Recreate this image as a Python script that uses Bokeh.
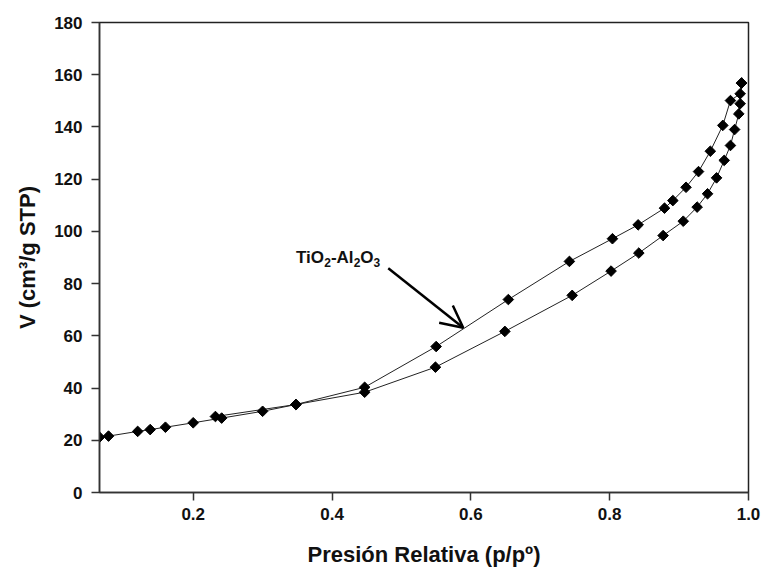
import math
from bokeh.plotting import figure
from bokeh.models import Range1d, FixedTicker, Arrow, OpenHead, Label
from bokeh.embed import file_html
from bokeh.resources import INLINE

# Adsorption branch (relative pressure, volume adsorbed)
ads_p = [0.065, 0.078, 0.12, 0.138, 0.16, 0.2, 0.241, 0.3, 0.348, 0.447,
         0.549, 0.649, 0.746, 0.802, 0.842, 0.877, 0.906, 0.926, 0.941,
         0.954, 0.965, 0.974, 0.98, 0.986, 0.988, 0.99]
ads_v = [21.2, 21.6, 23.4, 24.1, 25.0, 26.7, 28.5, 31.1, 33.7, 38.4,
         48.0, 61.7, 75.5, 84.8, 91.7, 98.4, 103.9, 109.3, 114.4,
         120.5, 127.2, 132.9, 139.0, 145.0, 148.9, 156.8]

# Desorption branch
des_p = [0.99, 0.988, 0.974, 0.963, 0.945, 0.928, 0.91, 0.891, 0.879,
         0.841, 0.804, 0.742, 0.654, 0.55, 0.447, 0.348, 0.232]
des_v = [156.8, 152.7, 150.1, 140.6, 130.7, 122.9, 116.9, 111.8, 108.9,
         102.5, 97.2, 88.5, 73.9, 55.9, 40.3, 33.7, 29.1]

x_ticks = [0.2, 0.4, 0.6, 0.8, 1.0]
y_ticks = [0, 20, 40, 60, 80, 100, 120, 140, 160, 180]

FONT = "Liberation Sans"

p = figure(width=762, height=571, output_backend="svg", toolbar_location=None,
           x_range=Range1d(0.065, 1.0), y_range=Range1d(0, 180),
           min_border_left=99, min_border_right=14, min_border_top=22,
           min_border_bottom=79)

p.background_fill_color = "white"
p.border_fill_color = "white"
p.grid.visible = False
p.outline_line_color = "#222222"
p.outline_line_width = 1.5

for ax in (p.xaxis, p.yaxis):
    ax.axis_line_color = "#333333"
    ax.axis_line_width = 1.5
    ax.major_tick_line_color = "#333333"
    ax.major_tick_line_width = 1.5
    ax.major_tick_in = 0
    ax.major_tick_out = 8
    ax.minor_tick_line_color = None
    ax.major_label_text_font = FONT
    ax.major_label_text_font_style = "bold"
    ax.major_label_text_font_size = "17px"
    ax.major_label_text_color = "#111111"
    ax.axis_label_text_font = FONT
    ax.axis_label_text_font_style = "bold"
    ax.axis_label_text_font_size = "22px"
    ax.axis_label_text_color = "#111111"

p.xaxis.ticker = FixedTicker(ticks=x_ticks)
p.yaxis.ticker = FixedTicker(ticks=y_ticks)
p.xaxis.major_label_overrides = {t: f"{t:.1f}" for t in x_ticks}
p.xaxis.major_label_standoff = 7
p.yaxis.major_label_standoff = 9
p.xaxis.axis_label = "Presión Relativa (p/pº)"
p.yaxis.axis_label = "V (cm³/g STP)"
p.xaxis.axis_label_standoff = 19
p.yaxis.axis_label_standoff = 11

# Isotherm branches
p.line(ads_p, ads_v, line_color="#222222", line_width=1)
p.line(des_p, des_v, line_color="#222222", line_width=1)
for xs, ys in ((ads_p, ads_v), (des_p, des_v)):
    p.scatter(xs, ys, marker="square", size=7.5, angle=math.pi / 4,
              fill_color="black", line_color="black", line_width=1)

# Sample annotation: arrow plus a formula with subscripted digits
p.add_layout(Arrow(end=OpenHead(size=22, line_width=2.5, line_color="black"),
                   x_start=0.481, y_start=85.9, x_end=0.589, y_end=63.1,
                   line_width=2.5, line_color="black"))

label_x, base_y, sub_y = 0.348, 90.0, 88.2
parts = [("TiO", 0.0, False), ("2", 28.3, True), ("-Al", 35.0, False),
         ("2", 57.7, True), ("O", 64.4, False), ("3", 77.6, True)]
for txt, dx, is_sub in parts:
    p.add_layout(Label(x=label_x, y=sub_y if is_sub else base_y, x_offset=dx,
                       text=txt, text_font=FONT, text_font_style="bold",
                       text_font_size="12px" if is_sub else "17px",
                       text_color="#111111", text_baseline="alphabetic"))

open("out.html", "w").write(file_html(p, INLINE))
